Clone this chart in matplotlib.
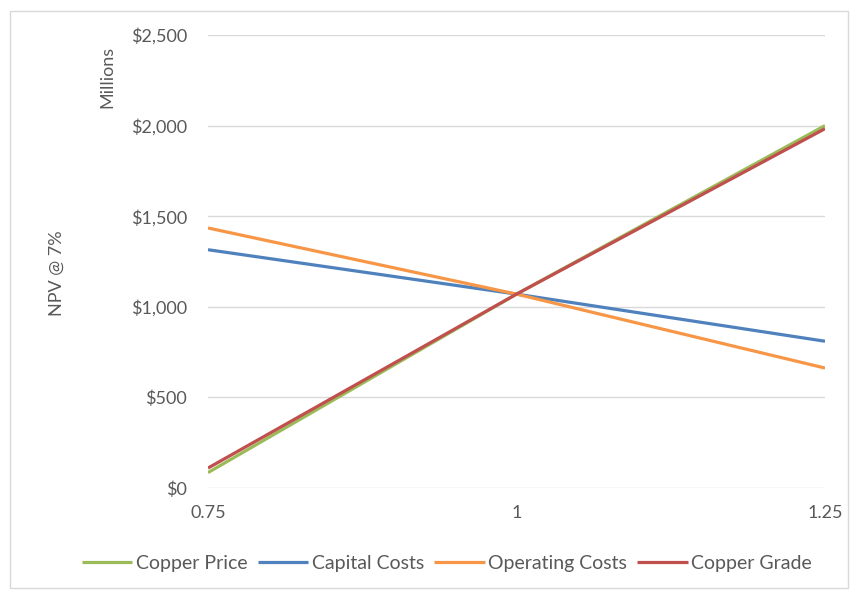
import matplotlib

matplotlib.use("Agg")
import matplotlib.pyplot as plt
from matplotlib.patches import Rectangle
from matplotlib.ticker import FuncFormatter

# sensitivity factor vs NPV @ 7% ($ millions)
factors = [0.75, 1.0, 1.25]
copper_price = [85, 1070, 2000]
capital_costs = [1315, 1070, 810]
operating_costs = [1435, 1070, 662]
copper_grade = [110, 1070, 1983]

series = [
    ("Copper Price", copper_price, "#9BBB59"),
    ("Capital Costs", capital_costs, "#4F81BD"),
    ("Operating Costs", operating_costs, "#F79646"),
    ("Copper Grade", copper_grade, "#C0504D"),
]

plt.rcParams["font.family"] = ["Lato", "DejaVu Sans"]
grey = "#595959"
fs = 13

fig = plt.figure(figsize=(8.57, 5.92), dpi=100)
ax = fig.add_axes([208 / 857, 1 - 488 / 592, (825 - 208) / 857, (488 - 35) / 592])

for name, vals, col in series:
    ax.plot(factors, vals, color=col, lw=2.3, label=name, solid_capstyle="butt")

ax.set_xlim(0.75, 1.25)
ax.set_ylim(0, 2500)
ax.set_xticks([0.75, 1.0, 1.25])
ax.set_xticklabels(["0.75", "1", "1.25"])
ax.set_yticks(range(0, 2501, 500))
ax.yaxis.set_major_formatter(FuncFormatter(lambda v, p: f"${v:,.0f}"))
ax.grid(axis="y", color="#d9d9d9", lw=1)
ax.set_axisbelow(True)
for s in ax.spines.values():
    s.set_visible(False)
ax.tick_params(length=0, labelsize=fs, labelcolor=grey)
ax.tick_params(axis="y", pad=15)
ax.tick_params(axis="x", pad=12)

fig.text(57 / 857, 1 - 273 / 592, "NPV @ 7%", rotation=90, ha="center", va="center",
         fontsize=fs, color=grey)
fig.text(107 / 857, 1 - 77 / 592, "Millions", rotation=90, ha="center", va="center",
         fontsize=fs, color=grey)

fig.legend(loc="center", bbox_to_anchor=(447 / 857, 1 - 563 / 592), ncol=4,
           frameon=False, fontsize=14, labelcolor=grey, handlelength=2.6,
           handletextpad=0.2, columnspacing=0.5)

fig.patches.append(Rectangle((10 / 857, 4 / 592), 838 / 857, 577 / 592,
                             transform=fig.transFigure, fill=False,
                             edgecolor="#d9d9d9", lw=1))

fig.savefig("out.png", dpi=100)
